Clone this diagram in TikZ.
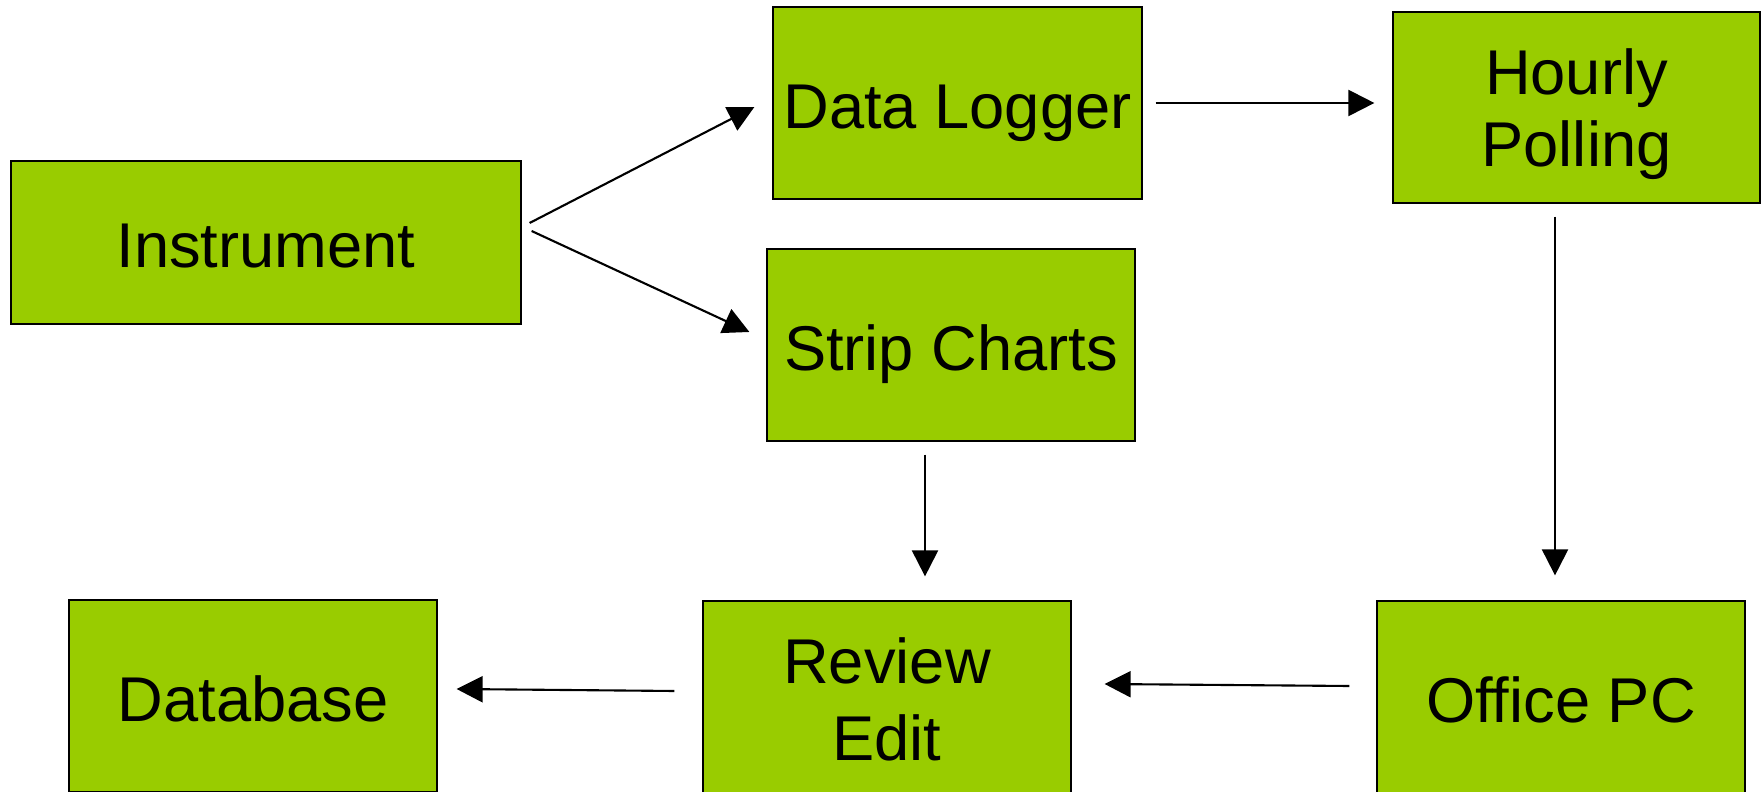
\documentclass[tikz,border=0pt]{standalone}
\usepackage{fontspec}
\setmainfont{Liberation Sans}
\usepackage{tikz}
\usetikzlibrary{arrows.meta}

\begin{document}
\begin{tikzpicture}[line width = 0.35pt,
								stage/.style = {rectangle, draw = black, fill = 
								{rgb,255:red,153;green,204;blue,0}, inner sep = 0pt,
								align = center, text height = 16.2pt, text depth = 1.8pt,
								font = \fontsize{18}{20.4}\selectfont},
								flow/.style = {-{Triangle[length = 7.4pt, width = 7.4pt]},
								line width = 0.6pt}]
				\useasboundingbox (0,0) rectangle (17.64,7.91);
				\clip (0,0) rectangle (17.64,7.91);

				\node [stage, minimum width = 5.10cm, minimum height = 1.63cm] (instr) at (2.66,5.485) {Instrument};
				\node [stage, minimum width = 3.69cm, minimum height = 1.92cm] (logger) at (9.575,6.88) {Data Logger};
				\node [stage, minimum width = 3.67cm, minimum height = 1.91cm,
								text height = 35.2pt] (poll) at (15.765,6.835) {Hourly\\Polling};
				\node [stage, minimum width = 3.68cm, minimum height = 1.92cm] (strip) at (9.51,4.46) {Strip Charts};
				\node [stage, minimum width = 3.68cm, minimum height = 1.92cm] (db) at (2.53,0.95) {Database};
				\node [stage, minimum width = 3.68cm, minimum height = 1.92cm, text height = 37.8pt,
								font = \fontsize{18}{21.8}\selectfont] (review) at (8.87,0.94) {Review\\Edit};
				\node [stage, minimum width = 3.68cm, minimum height = 1.92cm] (office) at (15.61,0.94) {Office PC};

				\draw [flow] ([shift = {(0.08,0.195)}]instr.east) -- ([shift = {(-0.18,-0.04)}]logger.west);
				\draw [flow] ([shift = {(0.10,0.115)}]instr.east) -- ([shift = {(-0.17,0.13)}]strip.west);
				\draw [flow] ([xshift = 0.13cm]logger.east) -- ([xshift = -0.18cm]poll.west |- logger.east);
				\draw [flow] ([shift = {(-0.215,-0.13)}]poll.south) -- ([shift = {(-0.215,0.25)}]poll.south |- office.north);
				\draw [flow] ([shift = {(-0.26,-0.13)}]strip.south) -- ([shift = {(-0.26,0.24)}]strip.south |- review.north);
				\draw [flow] ([shift = {(-0.27,0.11)}]office.west) -- ([shift = {(0.33,0.13)}]review.east);
				\draw [flow] ([shift = {(-0.28,0.06)}]review.west) -- ([shift = {(0.19,0.07)}]db.east);
			\end{tikzpicture}
\end{document}
